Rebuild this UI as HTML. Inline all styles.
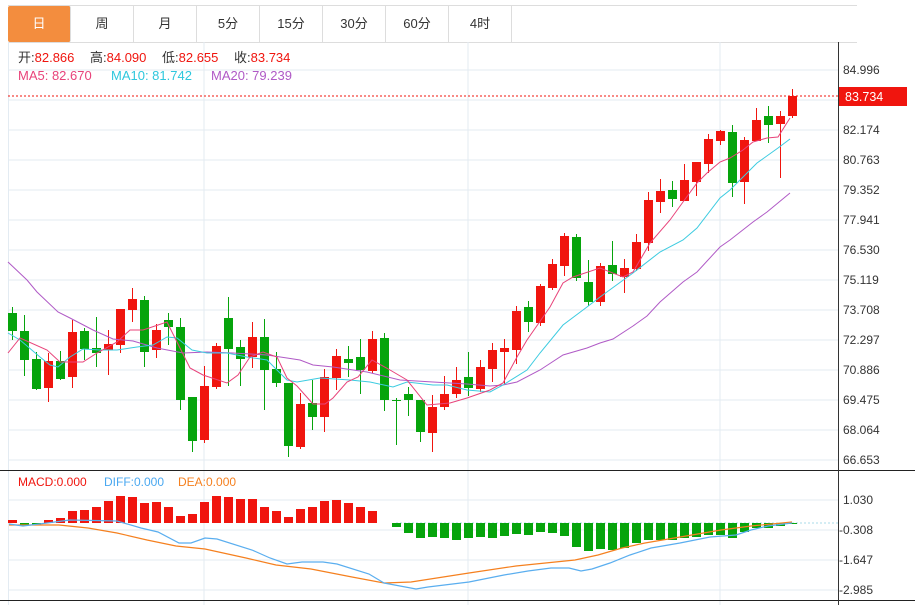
<!DOCTYPE html>
<html><head><meta charset="utf-8"><style>
body{margin:0;background:#fff;width:915px;height:605px;overflow:hidden;font-family:"Liberation Sans","Noto Sans CJK SC",sans-serif}
.tabs{position:absolute;left:8px;top:5px;height:36px;display:flex;border-top:1px solid #ddd;border-bottom:1px solid #ddd}
.tabs div{width:62px;border-right:1px solid #ddd;text-align:center;line-height:36px;font-size:13px;color:#333}
.tabs div.on{background:#f38d3e;color:#fff;border-radius:2px}
</style></head><body>
<div class="tabs"><div class="on">日</div><div>周</div><div>月</div><div>5分</div><div>15分</div><div>30分</div><div>60分</div><div>4时</div><div style="width:345px;border-right:none"></div></div>
<svg width="915" height="605" style="position:absolute;left:0;top:0" font-family="Liberation Sans, Noto Sans CJK SC, sans-serif" font-size="12">
<g stroke="#e3ebf2" stroke-width="1">
<line x1="8" y1="70" x2="838" y2="70"/><line x1="8" y1="100" x2="838" y2="100"/><line x1="8" y1="130" x2="838" y2="130"/><line x1="8" y1="160" x2="838" y2="160"/><line x1="8" y1="190" x2="838" y2="190"/><line x1="8" y1="220" x2="838" y2="220"/><line x1="8" y1="250" x2="838" y2="250"/><line x1="8" y1="280" x2="838" y2="280"/><line x1="8" y1="310" x2="838" y2="310"/><line x1="8" y1="340" x2="838" y2="340"/><line x1="8" y1="370" x2="838" y2="370"/><line x1="8" y1="400" x2="838" y2="400"/><line x1="8" y1="430" x2="838" y2="430"/><line x1="8" y1="460" x2="838" y2="460"/>
<line x1="8" y1="500" x2="838" y2="500"/><line x1="8" y1="530" x2="838" y2="530"/><line x1="8" y1="560" x2="838" y2="560"/><line x1="8" y1="590" x2="838" y2="590"/>
<line x1="204" y1="42" x2="204" y2="605"/><line x1="468" y1="42" x2="468" y2="605"/><line x1="720" y1="42" x2="720" y2="605"/>
<line x1="8.5" y1="42" x2="8.5" y2="605"/>
</g>
<line x1="0" y1="470.5" x2="915" y2="470.5" stroke="#222"/>
<line x1="0" y1="600.5" x2="915" y2="600.5" stroke="#222"/>
<line x1="838.5" y1="42" x2="838.5" y2="605" stroke="#333"/>
<g fill="#333">
<text x="843" y="74">84.996</text><text x="843" y="134">82.174</text><text x="843" y="164">80.763</text><text x="843" y="194">79.352</text><text x="843" y="224">77.941</text><text x="843" y="254">76.530</text><text x="843" y="284">75.119</text><text x="843" y="314">73.708</text><text x="843" y="344">72.297</text><text x="843" y="374">70.886</text><text x="843" y="404">69.475</text><text x="843" y="434">68.064</text><text x="843" y="464">66.653</text>
<text x="843" y="504">1.030</text><text x="839" y="534">-0.308</text><text x="839" y="564">-1.647</text><text x="839" y="594">-2.985</text>
</g>
<g font-size="13">
<text x="18" y="62"><tspan fill="#333">开:</tspan><tspan fill="#f0150e">82.866</tspan></text>
<text x="90" y="62"><tspan fill="#333">高:</tspan><tspan fill="#f0150e">84.090</tspan></text>
<text x="162" y="62"><tspan fill="#333">低:</tspan><tspan fill="#f0150e">82.655</tspan></text>
<text x="234" y="62"><tspan fill="#333">收:</tspan><tspan fill="#f0150e">83.734</tspan></text>
<text x="18" y="80" fill="#e8437a">MA5: 82.670</text>
<text x="111" y="80" fill="#2ec7dd">MA10: 81.742</text>
<text x="211" y="80" fill="#b05ac6">MA20: 79.239</text>
<text x="18" y="486" font-size="12" fill="#f0150e">MACD:0.000</text>
<text x="104" y="486" font-size="12" fill="#4aa8f0">DIFF:0.000</text>
<text x="178" y="486" font-size="12" fill="#f5801f">DEA:0.000</text>
</g>
<line x1="8" y1="96" x2="838" y2="96" stroke="#f0150e" stroke-dasharray="2,2"/>
<rect x="839" y="87" width="68" height="19" fill="#f0150e"/>
<text x="845" y="101" fill="#fff" font-size="12.5">83.734</text>
<line x1="396" y1="523" x2="838" y2="523" stroke="#a8dbe8" stroke-dasharray="2,2"/>
<g id="candles"></g>
<g id="macd"></g>
<polyline fill="none" stroke="#b05ac6" stroke-width="1" points="8,262 27,280 37,292 58,312 70,318 93,330 113,339 133,341 157,348 183,353 207,352 233,353 267,355 287,358 300,360 313,365 333,367 367,372 400,380 433,382 467,384 490,386 503,385 517,382 540,370 563,355 587,348 600,343 613,339 633,326 647,316 660,302 683,282 697,272 720,247 730,240 753,222 767,212 790,193"/>
<polyline fill="none" stroke="#3ccbe0" stroke-width="1" points="8,333 20,340 40,357 50,365 58,367 70,357 83,349 100,350 117,350 137,347 153,345 167,337 177,338 192,350 207,353 227,353 247,357 267,360 287,380 297,382 320,378 350,380 370,382 393,387 407,382 433,385 447,385 467,390 490,392 503,385 527,370 540,353 563,325 587,307 600,297 633,273 660,252 683,240 697,228 720,198 730,190 757,163 778,148 790,139"/>
<polyline fill="none" stroke="#e8437a" stroke-width="1" points="8,353 20,338 47,350 60,362 83,362 97,353 117,342 130,330 143,330 167,322 190,368 203,375 227,383 238,375 250,357 263,352 277,357 287,378 297,386 313,404 325,404 333,398 347,382 358,377 372,360 390,370 407,380 427,405 450,403 467,398 490,390 503,383 517,357 527,340 550,307 563,283 573,277 600,268 623,277 633,272 650,243 670,220 683,202 697,183 707,173 720,162 730,158 743,150 753,142 767,138 778,137 790,118"/>
<polyline fill="none" stroke="#f5801f" stroke-width="1.2" points="9,525 59,525 88,528 117,533 147,540 176,546 205,549 246,558 276,565 311,569 352,577 384,583 411,582 469,573 516,566 575,560 598,555 622,548 645,543 686,536 721,530 751,526 792,522"/>
<polyline fill="none" stroke="#5aaeef" stroke-width="1.2" points="9,524 23,526 47,523 70,520 117,521 141,528 158,532 179,543 191,543 205,538 217,539 252,550 270,558 287,564 302,562 323,562 337,564 369,574 384,583 416,589 428,587 469,582 504,575 528,571 551,568 569,568 581,571 592,569 610,563 630,555 651,548 680,543 710,537 736,535 751,530 768,526 792,523"/>
</svg>
<script>
var C=[["G",313,331,307,340],["G",331,360,315,376],["G",359,389,352,390],["R",361,388,353,402],["G",361,379,351,380],["R",332,377,320,388],["G",331,349,328,360],["G",348,353,317,367],["R",344,350,330,375],["R",309,345,309,353],["R",299,310,288,322],["G",300,352,296,367],["R",330,350,324,358],["G",320,327,313,345],["G",327,400,318,410],["G",397,441,397,452],["R",386,440,366,443],["R",346,387,343,389],["G",318,349,297,386],["G",347,359,340,386],["R",337,357,322,368],["G",337,370,319,410],["G",369,383,352,387],["G",383,446,383,457],["R",404,447,393,449],["G",403,417,380,430],["R",377,417,369,432],["R",356,378,349,390],["G",359,363,346,377],["G",357,370,339,394],["R",339,371,331,373],["G",338,400,333,411],["G",400,401,398,445],["G",394,400,387,416],["G",400,432,400,442],["R",407,433,395,452],["R",394,407,376,410],["R",380,394,367,398],["G",377,388,352,396],["R",367,389,360,392],["R",350,369,343,382],["R",348,352,339,385],["R",311,350,306,364],["G",307,322,301,332],["R",286,323,284,326],["R",264,288,259,290],["R",236,266,233,276],["G",237,278,234,281],["G",282,302,260,306],["R",266,302,263,306],["G",265,274,241,281],["R",268,277,259,293],["R",242,269,234,271],["R",200,243,192,251],["R",191,202,179,213],["G",190,199,181,207],["R",180,201,164,201],["R",162,182,162,196],["R",139,164,134,173],["R",131,141,130,145],["G",132,183,125,197],["R",140,182,137,204],["R",120,141,108,141],["G",116,125,106,143],["R",116,124,111,178],["R",96,116,89,118]];
var s="";C.forEach(function(c,i){var x=12+i*12,f=c[0]=="R"?"#f0150e":"#06a40c";s+='<line x1="'+(x+.5)+'" y1="'+c[3]+'" x2="'+(x+.5)+'" y2="'+c[4]+'" stroke="'+f+'"/><rect x="'+(x-4)+'" y="'+c[1]+'" width="9" height="'+Math.max(1,c[2]-c[1])+'" fill="'+f+'"/>';});
document.getElementById("candles").innerHTML=s;
var R=[520,525,525,520,518,511,510,507,501,496,497,503,502,507,516,514,502,496,497,499,499,507,511,517,509,507,501,500,503,507,511];
var G=[527,533,538,537,538,540,538,537,538,536,534,535,532,533,536,547,551,549,550,548,543,540,540,540,538,537,535,535,538,532,528,528,526,524];
var m="";R.forEach(function(y,i){var x=12+i*12;if(i==1||i==2){m+='<rect x="'+(x-4)+'" y="523" width="9" height="'+(y-523)+'" fill="#06a40c"/>';}else m+='<rect x="'+(x-4)+'" y="'+y+'" width="9" height="'+(523-y)+'" fill="#f0150e"/>';});
G.forEach(function(y,i){var x=396+i*12;m+='<rect x="'+(x-4)+'" y="523" width="9" height="'+(y-523)+'" fill="#06a40c"/>';});
document.getElementById("macd").innerHTML=m;
</script>
</body></html>
